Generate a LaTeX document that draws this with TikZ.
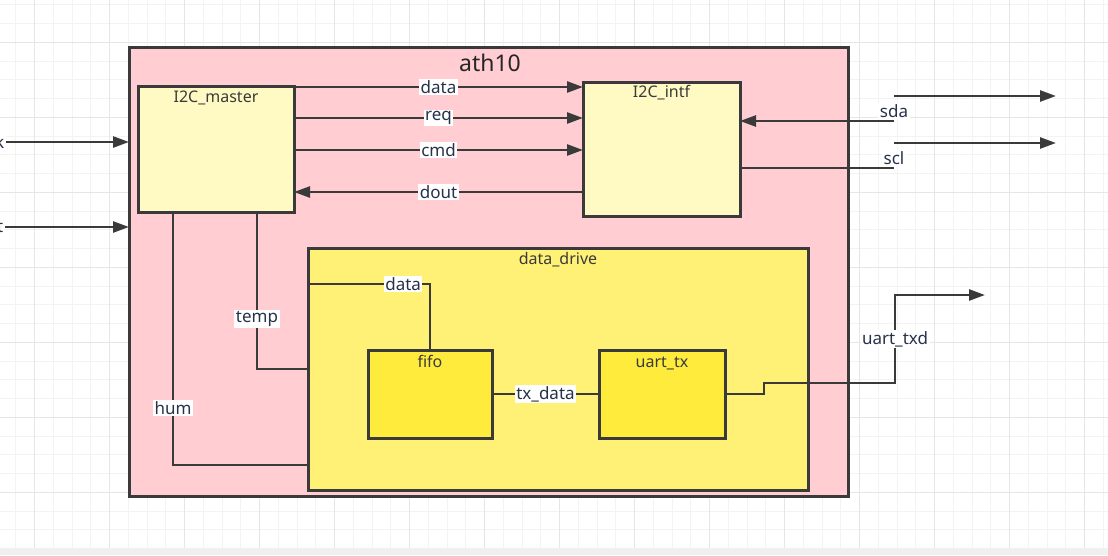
\documentclass[tikz,border=0pt]{standalone}
\usepackage{fontspec}
\setmainfont{Noto Sans}
\usepackage{xcolor}
\usepackage{tikz}
\usetikzlibrary{calc}
\usetikzlibrary{arrows.meta}
\definecolor{gridmin}{HTML}{F3F3F3}
\definecolor{gridmaj}{HTML}{E6E6E6}
\definecolor{stripgray}{HTML}{F0F0F0}
\definecolor{wirecol}{HTML}{3A3A3A}
\definecolor{topfill}{HTML}{FFCDD2}
\definecolor{ifcfill}{HTML}{FFF9C4}
\definecolor{drvfill}{HTML}{FFF176}
\definecolor{subfill}{HTML}{FFEB3B}
\definecolor{tagtext}{HTML}{26324A}
\tikzset{
  module/.style={draw=wirecol, line width=3pt, fill=#1, inner sep=0pt, outer sep=0pt, anchor=north west},
  sig/.style={draw=wirecol, line width=2.5pt},
  tag/.style={fill=white, inner sep=1.5pt, text=tagtext, font=\fontsize{17}{18}\selectfont},
  title/.style={anchor=base, inner sep=0pt, text=wirecol, font=\fontsize{16}{18}\selectfont},
}

\begin{document}
\begin{tikzpicture}[x=1pt, y=-1pt, >={Triangle[length=16pt,width=11pt]}]
\useasboundingbox (0,0) rectangle (1108,555);
% background grid
\fill[white] (0,0) rectangle (1108,548);
\fill[stripgray] (0,548) rectangle (1108,555);
\foreach \i in {0,...,58}
  \draw[gridmin, line width=1pt] ({15.95+18.75*\i},0) -- ++(0,548);
\foreach \j in {0,...,28}
  \draw[gridmin, line width=1pt] (0,{4.8+18.75*\j}) -- ++(1108,0);
\foreach \i in {0,...,14}
  \draw[gridmaj, line width=1.2pt] ({34.7+75*\i},0) -- ++(0,548);
\foreach \j in {0,...,6}
  \draw[gridmaj, line width=1.2pt] (0,{42.3+75*\j}) -- ++(1108,0);

% modules
\node[module=topfill, minimum width=719, minimum height=449] (ath) at (129,47) {};
\node[title, text=black!85, font=\fontsize{23}{26}\selectfont] (athname) at ($(ath.north)+(1.5,24)$) {ath10};
\node[module=ifcfill, minimum width=156, minimum height=126] (master) at (138,86) {};
\node[title] (mastername) at ($(master.north)+(0,16)$) {I2C\_master};
\node[module=ifcfill, minimum width=157, minimum height=134] (intf) at (583,82) {};
\node[title] (intfname) at ($(intf.north)+(0,15.5)$) {I2C\_intf};
\node[module=drvfill, minimum width=500, minimum height=242] (drive) at (308,248) {};
\node[title] (drivename) at ($(drive.north)+(0,16)$) {data\_drive};
\node[module=subfill, minimum width=124, minimum height=88] (fifo) at (368,350) {};
\node[title] (fifoname) at ($(fifo.north)+(0,17)$) {fifo};
\node[module=subfill, minimum width=126, minimum height=88] (uart) at (599,350) {};
\node[title] (uartname) at ($(uart.north)+(0,17)$) {uart\_tx};

% inputs
\node[tag, anchor=east] (clk) at (6,142) {clk};
\node[tag, anchor=east] (rst) at (5,227) {rst};
\draw[sig,->] (clk.east) -- (clk.east -| ath.west);
\draw[sig,->] (rst.east) -- (rst.east -| ath.west);

% I2C bus
\foreach \dy/\s in {1/data,32/req,64/cmd} {
  \path ($(master.north east)+(0,\dy)$) coordinate (p\s);
  \draw[sig,->] (p\s) -- (p\s -| intf.west) node[tag, midway] (bus\s) {\s};
}
\path ($(master.north east)+(0,106)$) coordinate (pdout);
\draw[sig,<-] (pdout) -- (pdout -| intf.west) node[tag, midway] (busdout) {dout};

% sda / scl
\draw[sig,<-] ($(intf.north east)+(0,39)$) -- ++(154,0) coordinate (sdap);
\node[tag] (sdatag) at ($(sdap)+(0,-10)$) {sda};
\draw[sig,->] ($(sdap)+(0,-25)$) coordinate (sdaout) -- ++(162,0);
\draw[sig] ($(intf.north east)+(0,86)$) -- ++(154,0) coordinate (sclp);
\node[tag] (scltag) at ($(sclp)+(0,-10)$) {scl};
\draw[sig,->] ($(sclp)+(0,-25)$) coordinate (sclout) -- ++(162,0);

% sensor values
\draw[sig] ($(master.south west)+(119,0)$) |- ($(drive.north west)+(0,121)$)
  node[tag, pos=0.34] (temptag) {temp};
\draw[sig] ($(master.south west)+(35,0)$) |- ($(drive.north west)+(0,217)$)
  node[tag, pos=0.387] (humtag) {hum};

% data_drive inside
\draw[sig] ($(drive.north west)+(0,36)$) -| (fifo.north)
  node[tag, pos=0.39] (datatag) {data};
\draw[sig] (fifo.east) -- (uart.west) node[tag, midway] (txtag) {tx\_data};
\draw[sig,->] (uart.east) -- ++(39,0) -- ++(0,-11) -- ++(131,0) -- ++(0,-88)
  node[tag, midway] (txdtag) {uart\_txd} -- ++(90,0);
\end{tikzpicture}
\end{document}
